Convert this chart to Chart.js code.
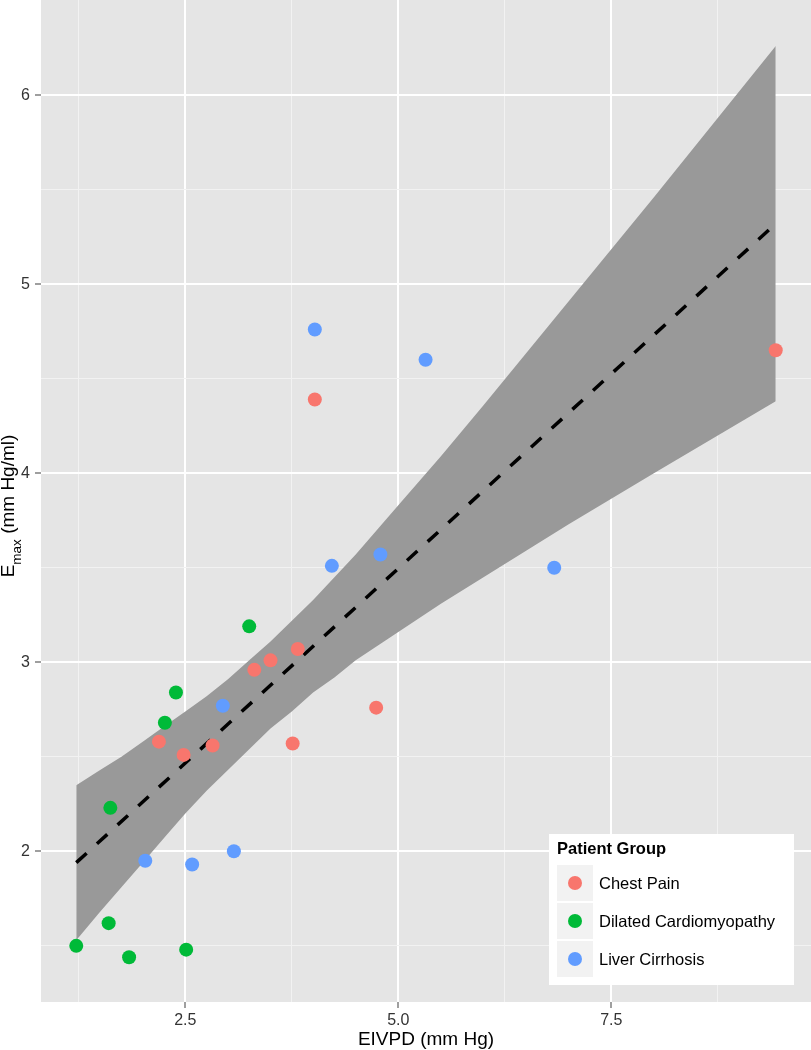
<!DOCTYPE html>
<html>
<head>
<meta charset="utf-8">
<script src="https://cdn.jsdelivr.net/npm/chart.js@4"></script>
<style>
  html, body { margin: 0; padding: 0; background: #ffffff; }
  canvas { display: block; }
</style>
</head>
<body>
<canvas id="chart" width="811" height="1050"></canvas>
<script>
// EIVPD vs Emax, three patient groups
const chestX = [2.19, 2.48, 2.82, 3.31, 3.50, 3.82, 3.76, 4.02, 4.74, 9.43]
const chestY = [2.58, 2.51, 2.56, 2.96, 3.01, 3.07, 2.57, 4.39, 2.76, 4.65]
const dcmX = [1.22, 1.62, 1.60, 1.84, 2.51, 2.26, 2.39, 3.25]
const dcmY = [1.50, 2.23, 1.62, 1.44, 1.48, 2.68, 2.84, 3.19]
const liverX = [2.03, 2.58, 3.07, 2.94, 4.02, 4.22, 4.79, 5.32, 6.83]
const liverY = [1.95, 1.93, 2.00, 2.77, 4.76, 3.51, 3.57, 4.60, 3.50]

// linear fit and its confidence band
const fitX = [1.22, 9.43]
const fitY = [1.94, 5.32]
const bandX = [1.22, 1.5, 1.75, 2.0, 2.25, 2.5, 2.75, 3.0, 3.25, 3.5, 3.75, 4.0, 4.25, 4.5, 5.0, 5.5, 6.0, 7.0, 8.0, 9.43]
const bandUpper = [2.35, 2.43, 2.50, 2.58, 2.66, 2.74, 2.82, 2.91, 3.01, 3.11, 3.22, 3.33, 3.45, 3.57, 3.83, 4.09, 4.36, 4.91, 5.46, 6.26]
const bandLower = [1.53, 1.68, 1.81, 1.94, 2.07, 2.20, 2.32, 2.43, 2.54, 2.65, 2.74, 2.84, 2.92, 3.01, 3.16, 3.31, 3.45, 3.73, 4.00, 4.38]

const groups = ["Chest Pain", "Dilated Cardiomyopathy", "Liver Cirrhosis"]
const groupColors = ["#F8766D", "#00BA38", "#619CFF"]

const xMajor = [2.5, 5.0, 7.5]
const xLabels = ["2.5", "5.0", "7.5"]
const xMinor = [1.25, 3.75, 6.25, 8.75]
const yMajor = [2, 3, 4, 5, 6]
const yLabels = ["2", "3", "4", "5", "6"]
const yMinor = [1.5, 2.5, 3.5, 4.5, 5.5]

const FONT = "'Liberation Sans', Arial, Helvetica, sans-serif"

const pts = (xs, ys) => xs.map((x, i) => ({ x: x, y: ys[i] }))

const isMajor = (list, v) => list.some((m) => Math.abs(m - v) < 1e-6)

const gridOpts = (major) => ({
  color: (c) => (c.tick && isMajor(major, c.tick.value) ? "#ffffff" : "#f2f2f2"),
  lineWidth: (c) => (c.tick && isMajor(major, c.tick.value) ? 2 : 1),
  tickColor: (c) => (c.tick && isMajor(major, c.tick.value) ? "#7f7f7f" : "rgba(0,0,0,0)"),
  tickWidth: 1.5,
  tickLength: 6,
})

const panelBg = {
  id: "panelBg",
  beforeDraw(chart) {
    const { ctx, chartArea: a } = chart
    ctx.save()
    ctx.fillStyle = "#e5e5e5"
    ctx.fillRect(a.left, a.top, a.right - a.left, a.bottom - a.top)
    ctx.restore()
  },
}

const titlesAndLegend = {
  id: "titlesAndLegend",
  afterDraw(chart) {
    const { ctx, chartArea: a } = chart
    ctx.save()
    ctx.fillStyle = "#000000"

    // x title
    ctx.font = "19px " + FONT
    ctx.textAlign = "center"
    ctx.textBaseline = "alphabetic"
    ctx.fillText("EIVPD (mm Hg)", (a.left + a.right) / 2, 1045)

    // y title with subscript
    const main = "19px " + FONT
    const sub = "13.5px " + FONT
    ctx.font = main
    const wE = ctx.measureText("E").width
    const wRest = ctx.measureText(" (mm Hg/ml)").width
    ctx.font = sub
    const wMax = ctx.measureText("max").width
    const total = wE + wMax + wRest
    ctx.translate(14, 506 + total / 2)
    ctx.rotate(-Math.PI / 2)
    ctx.textAlign = "left"
    ctx.font = main
    ctx.fillText("E", 0, 0)
    ctx.font = sub
    ctx.fillText("max", wE, 7)
    ctx.font = main
    ctx.fillText(" (mm Hg/ml)", wE + wMax, 0)
    ctx.setTransform(1, 0, 0, 1, 0, 0)

    // legend
    ctx.fillStyle = "#ffffff"
    ctx.fillRect(549, 834, 245, 151)
    ctx.fillStyle = "#000000"
    ctx.font = "bold 16.5px " + FONT
    ctx.fillText("Patient Group", 557, 854)
    const rowTop = [865, 903, 941]
    groups.forEach((g, i) => {
      ctx.fillStyle = "#f2f2f2"
      ctx.fillRect(557, rowTop[i], 36, 36)
      ctx.fillStyle = groupColors[i]
      ctx.beginPath()
      ctx.arc(575, rowTop[i] + 18, 7, 0, Math.PI * 2)
      ctx.fill()
      ctx.fillStyle = "#000000"
      ctx.font = "16.5px " + FONT
      ctx.fillText(g, 599, rowTop[i] + 24)
    })
    ctx.restore()
  },
}

const fixAxis = (size, horizontal) => (scale) => {
  if (horizontal) scale.height = size
  else scale.width = size
  scale.paddingTop = 0
  scale.paddingBottom = 0
  scale.paddingLeft = 0
  scale.paddingRight = 0
}

const pointSet = (label, xs, ys, color) => ({
  label: label,
  data: pts(xs, ys),
  showLine: false,
  backgroundColor: color,
  borderWidth: 0,
  pointRadius: 7,
  pointHoverRadius: 7,
  pointBorderWidth: 0,
})

const initChart = () => {
  const ctx = document.getElementById("chart").getContext("2d")
  new Chart(ctx, {
    type: "line",
    data: {
      datasets: [
        pointSet(groups[0], chestX, chestY, groupColors[0]),
        pointSet(groups[1], dcmX, dcmY, groupColors[1]),
        pointSet(groups[2], liverX, liverY, groupColors[2]),
        {
          label: "fit",
          data: pts(fitX, fitY),
          borderColor: "#000000",
          borderWidth: 3.5,
          borderDash: [14, 14],
          borderCapStyle: "butt",
          pointRadius: 0,
          fill: false,
        },
        {
          label: "upper",
          data: pts(bandX, bandUpper),
          borderWidth: 0,
          borderColor: "rgba(0,0,0,0)",
          backgroundColor: "#999999",
          pointRadius: 0,
          tension: 0,
          fill: "+1",
        },
        {
          label: "lower",
          data: pts(bandX, bandLower),
          borderWidth: 0,
          borderColor: "rgba(0,0,0,0)",
          pointRadius: 0,
          tension: 0,
          fill: false,
        },
      ],
    },
    options: {
      responsive: false,
      animation: false,
      layout: { padding: 0, autoPadding: false },
      plugins: {
        legend: { display: false },
        tooltip: { enabled: false },
      },
      scales: {
        x: {
          type: "linear",
          min: 0.806,
          max: 9.844,
          border: { display: false },
          grid: gridOpts(xMajor),
          afterBuildTicks: (s) => {
            s.ticks = [...xMinor, ...xMajor].sort((p, q) => p - q).map((v) => ({ value: v }))
          },
          afterFit: fixAxis(48, true),
          ticks: {
            autoSkip: false,
            maxRotation: 0,
            padding: 3,
            color: "#333333",
            font: { family: FONT, size: 16 },
            callback: (v) => {
              const i = xMajor.findIndex((m) => Math.abs(m - v) < 1e-6)
              return i >= 0 ? xLabels[i] : ""
            },
          },
        },
        y: {
          type: "linear",
          min: 1.203,
          max: 6.503,
          border: { display: false },
          grid: gridOpts(yMajor),
          afterBuildTicks: (s) => {
            s.ticks = [...yMinor, ...yMajor].sort((p, q) => p - q).map((v) => ({ value: v }))
          },
          afterFit: fixAxis(41, false),
          ticks: {
            autoSkip: false,
            padding: 5,
            color: "#333333",
            font: { family: FONT, size: 16 },
            callback: (v) => {
              const i = yMajor.findIndex((m) => Math.abs(m - v) < 1e-6)
              return i >= 0 ? yLabels[i] : ""
            },
          },
        },
      },
    },
    plugins: [panelBg, titlesAndLegend],
  })
}

document.addEventListener("DOMContentLoaded", initChart)
</script>
</body>
</html>
